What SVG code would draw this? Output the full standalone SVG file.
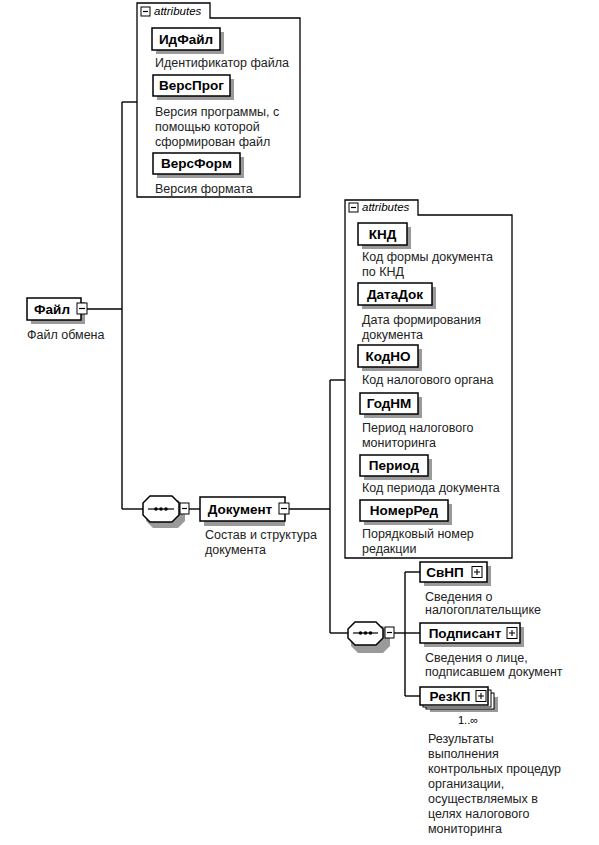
<svg xmlns="http://www.w3.org/2000/svg" width="599" height="845" viewBox="0 0 599 845">
<defs>
<style>
.bg{fill:#fff}
.box{fill:#fff;stroke:#000;stroke-width:1.5}
.shd{fill:#9a9a9a}
.attr{fill:#fff;stroke:#000;stroke-width:1.3}
.ln{fill:none;stroke:#000;stroke-width:1.4}
.nm{font-family:"Liberation Sans",Arial,sans-serif;font-size:13.5px;font-weight:bold;fill:#000;text-anchor:middle}
.ds{font-family:"Liberation Sans",Arial,sans-serif;font-size:12.5px;fill:#222}
.tab{font-family:"Liberation Sans",Arial,sans-serif;font-size:11.5px;font-style:italic;fill:#000}
.ic{fill:#fff;stroke:#000;stroke-width:1}
.card{font-family:"Liberation Sans",Arial,sans-serif;font-size:11px;fill:#000;text-anchor:middle}
</style>
</defs>
<rect class="bg" x="0" y="0" width="599" height="845"/>

<g id="connectors">
<path class="ln" d="M122,102 V509"/>
<path class="ln" d="M122,102 H137"/>
<path class="ln" d="M87,309 H122"/>
<path class="ln" d="M122,509 H143"/>
<path class="ln" d="M189,509 H200"/>
<path class="ln" d="M289,509 H330"/>
<path class="ln" d="M330,380 V633"/>
<path class="ln" d="M330,380 H345"/>
<path class="ln" d="M330,633 H348"/>
<path class="ln" d="M394,633 H405"/>
<path class="ln" d="M405,572 V696"/>
<path class="ln" d="M405,572 H420"/>
<path class="ln" d="M405,633 H420"/>
<path class="ln" d="M405,696 H420"/>
</g>

<g id="attributes-file">
<path class="attr" d="M137,18 V3 H210 V18 H300 V197 H137 Z"/>
<rect class="ic" x="141" y="7" width="9" height="9"/>
<path d="M143,11.5 H148" stroke="#000" stroke-width="1.2"/>
<text class="tab" x="154" y="15">attributes</text>
</g>

<g id="ИдФайл">
<rect class="shd" x="156" y="32" width="68" height="22"/>
<rect class="box" x="152" y="28" width="68" height="22"/>
<text class="nm" x="186" y="44">ИдФайл</text>
<text class="ds" x="155" y="67">Идентификатор файла</text>
</g>

<g id="ВерсПрог">
<rect class="shd" x="157" y="79" width="77" height="21"/>
<rect class="box" x="153" y="75" width="77" height="21"/>
<text class="nm" x="191.5" y="90">ВерсПрог</text>
<text class="ds" x="155" y="116">Версия программы, с</text>
<text class="ds" x="155" y="131">помощью которой</text>
<text class="ds" x="155" y="146">сформирован файл</text>
</g>

<g id="ВерсФорм">
<rect class="shd" x="157" y="157" width="87" height="21"/>
<rect class="box" x="153" y="153" width="87" height="21"/>
<text class="nm" x="196.5" y="168">ВерсФорм</text>
<text class="ds" x="155" y="193">Версия формата</text>
</g>

<g id="Файл">
<rect class="shd" x="31" y="302" width="54" height="22"/>
<rect class="box" x="27" y="298" width="54" height="22"/>
<text class="nm" x="52" y="314">Файл</text>
<rect class="ic" x="77" y="303" width="10" height="11"/>
<path d="M79,308.5 H85" stroke="#000" stroke-width="1.2"/>
<text class="ds" x="27" y="339">Файл обмена</text>
</g>

<g id="sequence-1">
<path class="shd" d="M153,500 H178 L185,507 V521 L178,528 H153 L146,521 V507 Z"/>
<path class="box" d="M150,496 H172 L179,503 V515 L172,522 H150 L143,515 V503 Z"/>
<path d="M148,509 H174" stroke="#000" stroke-width="1.2"/>
<circle cx="156" cy="509" r="1.8"/><circle cx="161" cy="509" r="1.8"/><circle cx="166" cy="509" r="1.8"/>
<rect class="ic" x="180" y="503" width="9" height="11"/>
<path d="M182,508.5 H187" stroke="#000" stroke-width="1.2"/>
</g>

<g id="Документ">
<rect class="shd" x="204" y="501" width="81" height="25"/>
<rect class="box" x="200" y="497" width="85" height="24"/>
<text class="nm" x="240" y="514">Документ</text>
<rect class="ic" x="279" y="503" width="10" height="11"/>
<path d="M281,508.5 H287" stroke="#000" stroke-width="1.2"/>
<text class="ds" x="205" y="539">Состав и структура</text>
<text class="ds" x="205" y="554">документа</text>
</g>

<g id="attributes-doc">
<path class="attr" d="M345,215 V200 H418 V215 H512 V558 H345 Z"/>
<rect class="ic" x="349" y="203" width="9" height="9"/>
<path d="M351,207.5 H356" stroke="#000" stroke-width="1.2"/>
<text class="tab" x="362" y="211">attributes</text>
</g>

<g id="КНД">
<rect class="shd" x="362" y="227" width="49" height="22"/>
<rect class="box" x="358" y="223" width="49" height="22"/>
<text class="nm" x="382.5" y="239">КНД</text>
<text class="ds" x="362" y="261">Код формы документа</text>
<text class="ds" x="362" y="276">по КНД</text>
</g>

<g id="ДатаДок">
<rect class="shd" x="362" y="287" width="74" height="22"/>
<rect class="box" x="358" y="283" width="74" height="22"/>
<text class="nm" x="395" y="299">ДатаДок</text>
<text class="ds" x="362" y="324">Дата формирования</text>
<text class="ds" x="362" y="339">документа</text>
</g>

<g id="КодНО">
<rect class="shd" x="362" y="349" width="60" height="22"/>
<rect class="box" x="358" y="345" width="60" height="22"/>
<text class="nm" x="388" y="361">КодНО</text>
<text class="ds" x="362" y="384">Код налогового органа</text>
</g>

<g id="ГодНМ">
<rect class="shd" x="364" y="397" width="58" height="21"/>
<rect class="box" x="360" y="393" width="58" height="21"/>
<text class="nm" x="389" y="408">ГодНМ</text>
<text class="ds" x="362" y="432">Период налогового</text>
<text class="ds" x="362" y="447">мониторинга</text>
</g>

<g id="Период">
<rect class="shd" x="364" y="459" width="68" height="21"/>
<rect class="box" x="360" y="455" width="68" height="21"/>
<text class="nm" x="394" y="470">Период</text>
<text class="ds" x="362" y="492">Код периода документа</text>
</g>

<g id="НомерРед">
<rect class="shd" x="364" y="504" width="88" height="21"/>
<rect class="box" x="360" y="500" width="88" height="21"/>
<text class="nm" x="404" y="515">НомерРед</text>
<text class="ds" x="362" y="538">Порядковый номер</text>
<text class="ds" x="362" y="553">редакции</text>
</g>

<g id="sequence-2">
<path class="shd" d="M358,626 H383 L390,633 V646 L383,653 H358 L351,646 V633 Z"/>
<path class="box" d="M355,622 H376 L383,629 V638 L376,645 H355 L348,638 V629 Z"/>
<path d="M353,633 H378" stroke="#000" stroke-width="1.2"/>
<circle cx="360.5" cy="633" r="1.8"/><circle cx="365.5" cy="633" r="1.8"/><circle cx="370.5" cy="633" r="1.8"/>
<rect class="ic" x="385" y="627" width="9" height="11"/>
<path d="M387,632.5 H392" stroke="#000" stroke-width="1.2"/>
</g>

<g id="СвНП">
<rect class="shd" x="424" y="566" width="67" height="20"/>
<rect class="box" x="420" y="562" width="67" height="20"/>
<text class="nm" x="445" y="577">СвНП</text>
<rect class="ic" x="472" y="566.5" width="10" height="11"/>
<path d="M474,572 H480 M477,569 V575" stroke="#000" stroke-width="1.1"/>
<text class="ds" x="425" y="601">Сведения о</text>
<text class="ds" x="425" y="614">налогоплательщике</text>
</g>

<g id="Подписант">
<rect class="shd" x="424" y="627" width="100" height="20"/>
<rect class="box" x="420" y="623" width="100" height="20"/>
<text class="nm" x="465" y="638">Подписант</text>
<rect class="ic" x="507" y="627.5" width="10" height="11"/>
<path d="M509,633 H515 M512,630 V636" stroke="#000" stroke-width="1.1"/>
<text class="ds" x="425" y="662">Сведения о лице,</text>
<text class="ds" x="425" y="676">подписавшем документ</text>
</g>

<g id="РезКП">
<rect class="shd" x="430" y="697" width="68" height="15"/>
<rect class="box" x="426" y="693" width="68" height="16" style="stroke-width:1"/>
<rect class="box" x="423" y="690" width="68" height="17" style="stroke-width:1"/>
<rect class="box" x="420" y="687" width="68" height="18"/>
<text class="nm" x="450" y="701">РезКП</text>
<rect class="ic" x="476" y="690.5" width="10" height="11"/>
<path d="M478,696 H484 M481,693 V699" stroke="#000" stroke-width="1.1"/>
<text class="card" x="468" y="724">1..∞</text>
<text class="ds" x="428" y="743">Результаты</text>
<text class="ds" x="428" y="758">выполнения</text>
<text class="ds" x="428" y="773">контрольных процедур</text>
<text class="ds" x="428" y="788">организации,</text>
<text class="ds" x="428" y="803">осуществляемых в</text>
<text class="ds" x="428" y="818">целях налогового</text>
<text class="ds" x="428" y="833">мониторинга</text>
</g>
</svg>
